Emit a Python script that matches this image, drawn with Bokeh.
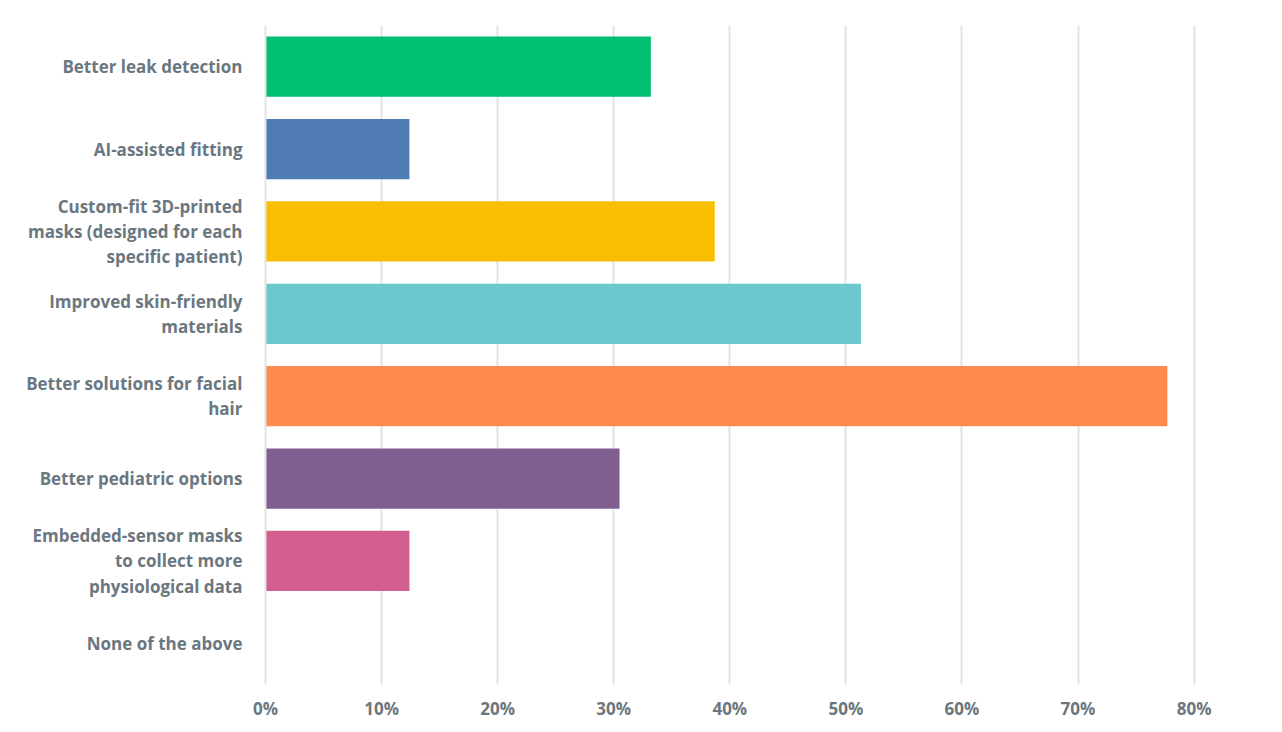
from bokeh.plotting import figure
from bokeh.models import FactorRange, NumeralTickFormatter, FixedTicker, ColumnDataSource
from bokeh.embed import file_html
from bokeh.resources import INLINE

categories = [
    "Better leak detection",
    "AI-assisted fitting",
    "Custom-fit 3D-printed\nmasks (designed for each\nspecific patient)",
    "Improved skin-friendly\nmaterials",
    "Better solutions for facial\nhair",
    "Better pediatric options",
    "Embedded-sensor masks\nto collect more\nphysiological data",
    "None of the above",
]
values = [0.332, 0.124, 0.387, 0.513, 0.777, 0.305, 0.124, 0.0]
colors = ["#00BF6F", "#507CB6", "#F9BE00", "#6BC8CD", "#FF8B4F", "#7F5F90", "#D25F90", "#AAAAAA"]
x_ticks = [0, 0.1, 0.2, 0.3, 0.4, 0.5, 0.6, 0.7, 0.8]

src = ColumnDataSource(dict(cat=categories, val=values, color=colors))

p = figure(
    width=1282, height=732,
    y_range=FactorRange(*reversed(categories)),
    x_range=(0, 0.84),
    output_backend="svg", toolbar_location=None,
    min_border_left=265, min_border_right=42, min_border_top=25, min_border_bottom=48,
)
p.hbar(y="cat", right="val", left=0, height=0.73, color="color", source=src, line_color=None)

p.outline_line_color = None
p.ygrid.grid_line_color = None
p.xgrid.grid_line_color = "#e3e3e3"
p.xgrid.grid_line_width = 2
p.xaxis.ticker = FixedTicker(ticks=x_ticks)
p.xaxis.formatter = NumeralTickFormatter(format="0%")
p.xaxis.axis_line_color = None
p.xaxis.major_tick_line_color = "#e3e3e3"
p.xaxis.major_tick_line_width = 2
p.xaxis.major_tick_in = 0
p.xaxis.major_tick_out = 0
p.xaxis.minor_tick_line_color = None
p.xaxis.major_label_standoff = 12
p.xaxis.major_label_text_font = "Open Sans"
p.xaxis.major_label_text_font_size = "17px"
p.xaxis.major_label_text_color = "#6b7780"
p.xaxis.major_label_text_font_style = "bold"

p.yaxis.axis_line_color = "#e3e3e3"
p.yaxis.axis_line_width = 2
p.yaxis.major_tick_line_color = None
p.yaxis.minor_tick_line_color = None
p.yaxis.major_label_standoff = 17
p.yaxis.major_label_text_font = "Open Sans"
p.yaxis.major_label_text_font_size = "17px"
p.yaxis.major_label_text_color = "#6b7780"
p.yaxis.major_label_text_font_style = "bold"
p.yaxis.major_label_text_align = "right"
p.yaxis.major_label_text_line_height = 1.1

open("out.html", "w").write(file_html(p, INLINE))
